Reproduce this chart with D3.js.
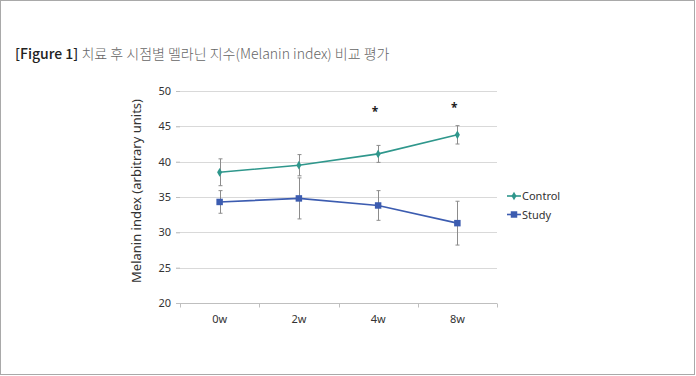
<!DOCTYPE html>
<html>
  <head>
    <meta charset="UTF-8" />
    <title>Melanin index</title>
    <script src="https://cdn.jsdelivr.net/npm/d3@7"></script>
    <style>
      body { margin: 0; background: #fff; }
    </style>
  </head>
  <body>
    <svg width="696" height="376" id="mainsvg"></svg>
    <script>
      // data
      const weeks = ['0w', '2w', '4w', '8w'];
      const controlMean = [38.5, 39.5, 41.1, 43.8];
      const controlErr = [1.9, 1.5, 1.2, 1.3];
      const studyMean = [34.3, 34.8, 33.8, 31.3];
      const studyErr = [1.6, 2.9, 2.1, 3.1];
      const yTicks = [20, 25, 30, 35, 40, 45, 50];
      const starWeeks = ['4w', '8w'];
      const starValues = [47.4, 48.0];

      const svg = d3.select('#mainsvg');
      const font = '"Noto Sans", "Open Sans", sans-serif';

      // outer frame
      svg.append('rect')
        .attr('x', 0.5).attr('y', 0.5)
        .attr('width', 694).attr('height', 374)
        .attr('fill', '#fff')
        .attr('stroke', '#a9a9a9');

      // caption
      const cap = svg.append('text')
        .attr('x', 15).attr('y', 59)
        .attr('font-family', '"Noto Sans CJK KR", sans-serif')
        .attr('font-size', '14px');
      cap.append('tspan').attr('fill', '#222').attr('font-weight', 500).text('[Figure 1]');
      cap.append('tspan').attr('fill', '#666').attr('font-weight', 300).text(' 치료 후 시점별 멜라닌 지수(Melanin index) 비교 평가');

      const margin = {left: 180, right: 199, top: 91, bottom: 73};
      const width = 696, height = 376;

      const x = d3.scaleBand().domain(weeks).range([margin.left, width - margin.right]);
      const y = d3.scaleLinear().domain([20, 50]).range([height - margin.bottom, margin.top]);

      const g = svg.append('g');

      // gridlines
      g.selectAll('.grid').data(yTicks.slice(1)).enter().append('line')
        .attr('x1', margin.left - 4).attr('x2', width - margin.right)
        .attr('y1', d => Math.round(y(d)) + 0.5).attr('y2', d => Math.round(y(d)) + 0.5)
        .attr('stroke', '#d9d9d9');

      // y axis (labels + ticks only)
      const yAxis = d3.axisLeft(y).tickValues(yTicks).tickSize(4).tickPadding(5);
      const yg = g.append('g').attr('transform', `translate(${margin.left},0)`).call(yAxis);
      yg.select('.domain').remove();
      yg.selectAll('line').attr('stroke', '#bfbfbf');
      yg.selectAll('text').attr('font-family', font).attr('font-size', '11px').attr('fill', '#333');

      // x axis
      const xAxis = d3.axisBottom(x).tickSize(0).tickPadding(12);
      const xg = g.append('g').attr('transform', `translate(0,${Math.round(y(20)) + 0.5})`).call(xAxis);
      xg.select('.domain').attr('stroke', '#bfbfbf').attr('d', `M${margin.left - 4},0H${width - margin.right}`);
      xg.selectAll('text').attr('font-family', font).attr('font-size', '11px').attr('fill', '#333');
      // category boundary ticks
      const bounds = weeks.map(w => x(w)).concat([x.range()[1]]);
      xg.selectAll('.btick').data(bounds).enter().append('line')
        .attr('x1', d => Math.round(d) + 0.5).attr('x2', d => Math.round(d) + 0.5)
        .attr('y1', 0).attr('y2', 4)
        .attr('stroke', '#bfbfbf');

      // y title
      svg.append('text')
        .attr('transform', `translate(141,${(y(20) + y(50)) / 2 - 6}) rotate(-90)`)
        .attr('text-anchor', 'middle')
        .attr('font-family', font).attr('font-size', '13px').attr('fill', '#333')
        .text('Melanin index (arbitrary units)');

      const cx = w => x(w) + x.bandwidth() / 2;

      const series = [
        {name: 'Control', mean: controlMean, err: controlErr, color: '#2f978c', shape: d3.symbolDiamond, size: 22},
        {name: 'Study', mean: studyMean, err: studyErr, color: '#3c5cb0', shape: d3.symbolSquare, size: 42}
      ];

      series.forEach(s => {
        const pts = weeks.map((w, i) => ({w, v: s.mean[i], e: s.err[i]}));
        // error bars
        const eb = g.append('g');
        pts.forEach(p => {
          const xx = Math.round(cx(p.w)) + 0.5;
          eb.append('line').attr('x1', xx).attr('x2', xx)
            .attr('y1', y(p.v + p.e)).attr('y2', y(p.v - p.e))
            .attr('stroke', '#8c8c8c').attr('stroke-width', 1);
          [p.v + p.e, p.v - p.e].forEach(v => {
            eb.append('line').attr('x1', xx - 2).attr('x2', xx + 2)
              .attr('y1', y(v)).attr('y2', y(v))
              .attr('stroke', '#8c8c8c').attr('stroke-width', 1);
          });
        });
        g.append('path').datum(pts)
          .attr('fill', 'none').attr('stroke', s.color).attr('stroke-width', 1.6)
          .attr('d', d3.line().x(d => cx(d.w)).y(d => y(d.v)));
        g.selectAll(null).data(pts).enter().append('path')
          .attr('d', d3.symbol().type(s.shape).size(s.size))
          .attr('transform', d => `translate(${cx(d.w)},${y(d.v)})`)
          .attr('fill', s.color);
      });

      // significance marks
      g.selectAll('.star').data(starWeeks).enter().append('text')
        .attr('x', (d, i) => cx(d) - 3)
        .attr('y', (d, i) => y(starValues[i]) + 7)
        .attr('text-anchor', 'middle')
        .attr('font-family', font).attr('font-size', '12px').attr('font-weight', 'bold').attr('fill', '#222')
        .text('*');

      // legend
      const lg = svg.append('g').attr('transform', 'translate(507,196)');
      series.forEach((s, i) => {
        const row = lg.append('g').attr('transform', `translate(0,${i * 18.5})`);
        row.append('line').attr('x1', 0).attr('x2', 14).attr('stroke', s.color).attr('stroke-width', 1.6);
        row.append('path').attr('d', d3.symbol().type(s.shape).size(s.size)).attr('transform', 'translate(7,0)').attr('fill', s.color);
        row.append('text').attr('x', 15).attr('y', 4)
          .attr('font-family', font).attr('font-size', '11px').attr('fill', '#333')
          .text(s.name);
      });
    </script>
  </body>
</html>
